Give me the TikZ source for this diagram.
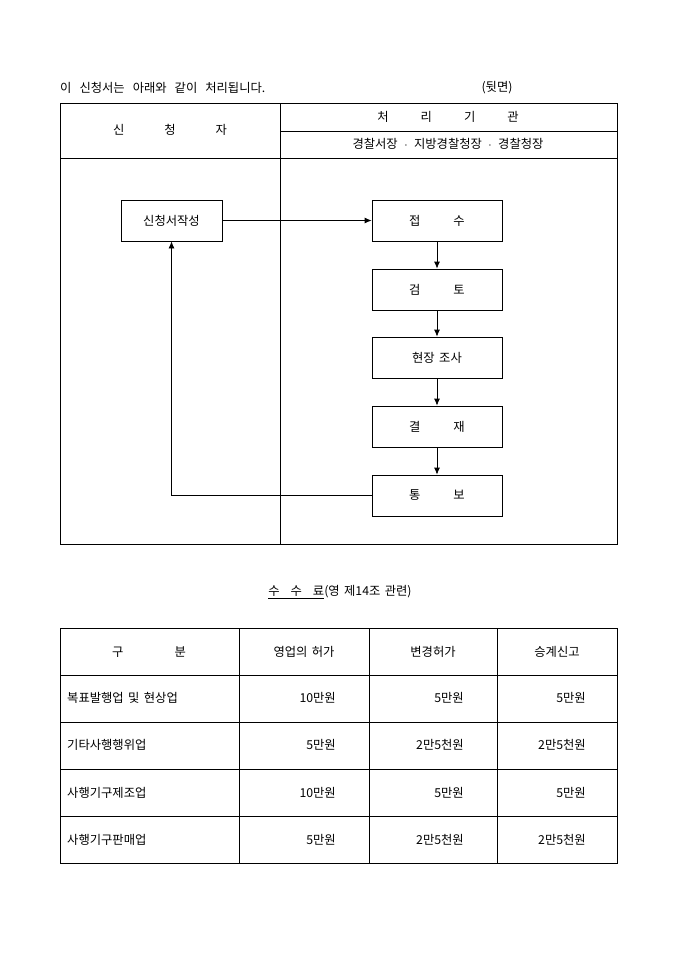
\documentclass[tikz,border=0pt]{standalone}
\usepackage{fontspec}
\setmainfont{Noto Sans CJK KR}[WordSpace=1.6]
\usepackage{tikz}
\usetikzlibrary{arrows.meta}

\tikzset{
  txt/.style={inner sep=0pt, font=\fontsize{12.3}{14}\selectfont},
  stepbox/.style={draw, line width=0.8pt, minimum width=130pt, minimum height=41pt, inner sep=0pt, font=\fontsize{12.3}{14}\selectfont},
  flow/.style={-{Latex[length=7pt,width=6pt]}, line width=0.8pt},
}

\begin{document}
\begin{tikzpicture}[x=1pt,y=-1pt]
        \useasboundingbox (0,0) rectangle (680,962);

        \node[txt, anchor=west] at (60,88)   (intro) {이\hspace{8pt}신청서는\hspace{8pt}아래와\hspace{8pt}같이\hspace{8pt}처리됩니다.};
        \node[txt] at (497,88)   (back) {(뒷면)};

        % processing frame
        \draw[line width=0.9pt] (60,103) rectangle (617,544);
        \draw[line width=0.8pt] (280,103) -- (280,544);
        \draw[line width=0.8pt] (60,158) -- (617,158);
        \draw[line width=0.8pt] (280,131) -- (617,131);

        \node[txt] at (170,130)   (appl) {신\hspace{40pt}청\hspace{40pt}자};
        \node[txt] at (448,117)   (agency) {처\hspace{32pt}리\hspace{32pt}기\hspace{32pt}관};
        \node[txt] at (448,144)   (offices) {경찰서장 \,$\cdot$\, 지방경찰청장 \,$\cdot$\, 경찰청장};

        \node[stepbox, minimum width=101pt] at (171.5,220.5)   (write) {신청서작성};
        \node[stepbox] at (437,220.5)   (recv) {접\hspace{33pt}수};
        \node[stepbox] at (437,289.5)   (review) {검\hspace{33pt}토};
        \node[stepbox] at (437,357.5)   (survey) {현장 조사};
        \node[stepbox] at (437,426.5)   (approve) {결\hspace{33pt}재};
        \node[stepbox] at (437,495.5)   (notify) {통\hspace{33pt}보};

        \draw[flow] (write) -- (recv);
        \draw[flow] (recv) -- (review);
        \draw[flow] (review) -- (survey);
        \draw[flow] (survey) -- (approve);
        \draw[flow] (approve) -- (notify);
        \draw[flow] (notify.west) -| (write.south);

        % fee table
        \node[txt] at (340,592)   (caption) {\underline{수\hspace{11pt}수\hspace{11pt}료}(영 제14조 관련)};

        \draw[line width=0.9pt] (60,628) rectangle (617,863);
        \draw[line width=0.8pt] (239,628) -- (239,863);
        \draw[line width=0.8pt] (369,628) -- (369,863);
        \draw[line width=0.8pt] (497,628) -- (497,863);
        \draw[line width=0.8pt] (60,675) -- (617,675);
        \draw[line width=0.8pt] (60,722) -- (617,722);
        \draw[line width=0.8pt] (60,769) -- (617,769);
        \draw[line width=0.8pt] (60,816) -- (617,816);

        \node[txt] at (149,652)   (h1) {구\hspace{51pt}분};
        \node[txt] at (304,652)   (h2) {영업의 허가};
        \node[txt] at (433,652)   (h3) {변경허가};
        \node[txt] at (557,652)   (h4) {승계신고};

        \node[txt, anchor=west] at (67,698)   (r1c1) {복표발행업 및 현상업};
        \node[txt, anchor=east] at (336,698)   (r1c2) {10만원};
        \node[txt, anchor=east] at (464,698)   (r1c3) {5만원};
        \node[txt, anchor=east] at (586,698)   (r1c4) {5만원};

        \node[txt, anchor=west] at (67,745)   (r2c1) {기타사행행위업};
        \node[txt, anchor=east] at (336,745)   (r2c2) {5만원};
        \node[txt, anchor=east] at (464,745)   (r2c3) {2만5천원};
        \node[txt, anchor=east] at (586,745)   (r2c4) {2만5천원};

        \node[txt, anchor=west] at (67,793)   (r3c1) {사행기구제조업};
        \node[txt, anchor=east] at (336,793)   (r3c2) {10만원};
        \node[txt, anchor=east] at (464,793)   (r3c3) {5만원};
        \node[txt, anchor=east] at (586,793)   (r3c4) {5만원};

        \node[txt, anchor=west] at (67,840)   (r4c1) {사행기구판매업};
        \node[txt, anchor=east] at (336,840)   (r4c2) {5만원};
        \node[txt, anchor=east] at (464,840)   (r4c3) {2만5천원};
        \node[txt, anchor=east] at (586,840)   (r4c4) {2만5천원};
    \end{tikzpicture}
\end{document}
